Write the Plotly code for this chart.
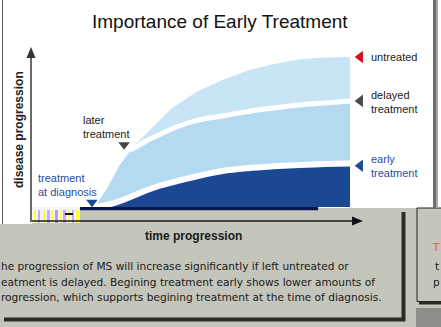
import plotly.graph_objects as go

# ---------------- data (time units vs disease progression) ----------------
time = [0, 0.5, 1, 1.5, 2, 2.5, 3, 4, 5, 6, 7, 8, 9, 10]
untreated = [0, 13, 28.7, 40.5, 48.7, 57, 65.7, 77, 84.7, 91, 95.3, 98.3, 99.7, 100]
delayed = [None, None, None, 39, 44, 48, 52, 57.7, 60.7, 63.7, 66, 68, 69.3, 70.7]
early = [0, 1.5, 4, 7.5, 11, 14, 16.3, 20.5, 24, 25.9, 27.1, 28, 28.7, 29]

series_names = ["untreated", "delayed treatment", "early treatment"]

W, H = 441, 327
# axis ranges chosen so the plot fills the whole page
XR = [-95 / 25.5, (W - 95) / 25.5]
YR = [(207 - H) / 1.5, 207 / 1.5]

def X(px):
    return px / W

def Y(py):
    return 1 - py / H

def rect(x0, y0, x1, y1, fill, line=None, layer="below", lw=0):
    return dict(type="rect", xref="paper", yref="paper",
                x0=X(x0), x1=X(x1), y0=Y(y1), y1=Y(y0),
                fillcolor=fill, line=dict(width=lw, color=line or fill), layer=layer)

def seg(x0, y0, x1, y1, color, w=1, layer="above"):
    return dict(type="line", xref="paper", yref="paper",
                x0=X(x0), x1=X(x1), y0=Y(y0), y1=Y(y1),
                line=dict(color=color, width=w), layer=layer)

def tri(pts, color, layer="above"):
    p = "M " + " L ".join(f"{X(a)},{Y(b)}" for a, b in pts) + " Z"
    return dict(type="path", xref="paper", yref="paper", path=p,
                fillcolor=color, line=dict(width=0), layer=layer)

LIGHT = "#c8e5f6"
MID = "#b4daf1"
DARK = "#1c4793"
NAVY = "#0b1650"
PANEL = "#c4c5bb"

fig = go.Figure()

# untreated band
fig.add_trace(go.Scatter(x=time, y=untreated, mode="lines", fill="tozeroy",
                         fillcolor=LIGHT, line=dict(width=0, color=LIGHT),
                         name=series_names[0], hoverinfo="skip"))
# delayed band (follows untreated before branching)
delayed_fill = [d if d is not None else u for d, u in zip(delayed, untreated)]
fig.add_trace(go.Scatter(x=time, y=delayed_fill, mode="lines", fill="tozeroy",
                         fillcolor=MID, line=dict(width=0, color=MID),
                         name=series_names[1], hoverinfo="skip"))
t_d = [t for t, d in zip(time, delayed) if d is not None]
v_d = [d for d in delayed if d is not None]
fig.add_trace(go.Scatter(x=[1.37] + t_d, y=[38] + v_d, mode="lines",
                         line=dict(width=5, color="white", shape="spline"),
                         hoverinfo="skip", showlegend=False))
# early band
fig.add_trace(go.Scatter(x=time, y=early, mode="lines", fill="tozeroy",
                         fillcolor=DARK, line=dict(width=0, color=DARK),
                         name=series_names[2], hoverinfo="skip"))
fig.add_trace(go.Scatter(x=time, y=early, mode="lines",
                         line=dict(width=6, color="white", shape="spline"),
                         hoverinfo="skip", showlegend=False))

# end markers (triangles) tied to series ends
fig.add_trace(go.Scatter(x=[10.4, 10.4, 10.4],
                         y=[untreated[-1], delayed[-1], early[-1] - 1.5],
                         mode="markers",
                         marker=dict(symbol="triangle-left", size=11,
                                     color=["#d0101c", "#4a4a4a", "#1f4a96"]),
                         hoverinfo="skip", showlegend=False))
fig.add_trace(go.Scatter(x=[1.14, -0.12], y=[41.5, 3.2], mode="markers",
                         marker=dict(symbol="triangle-down", size=10,
                                     color=["#444444", "#1f4a96"]),
                         hoverinfo="skip", showlegend=False))

shapes = []
# bottom grey background and panels
shapes.append(rect(0, 208, 441, 327, PANEL))
shapes.append(rect(4, 212, 405.5, 321.5, "#2c2c24"))
shapes.append(rect(-2, 208, 401.5, 317.5, PANEL))
# white corner + glitch region at left
shapes.append(rect(-2, 207, 32, 224, "white"))
shapes.append(rect(32, 207, 80, 223, "#f4f4ff"))
for a, b, c in [(34, 36, "#ffff40"), (38, 40, "#c8a8ff"), (43, 45, "#ffff40"),
                (47, 50, "#c8a8ff"), (51, 53, "#ffff40"), (55, 58, "#b898f0"),
                (60, 62, "#ffff40"), (63, 66, "#c8a8ff"), (68, 70, "#ffff40"),
                (72, 74, "#c8a8ff"), (76, 79, "#ffff40")]:
    shapes.append(rect(a, 210, b, 223, c))
shapes.append(rect(65, 213, 73, 215, "#111111"))
# second panel on the right
shapes.append(rect(419, 210, 445, 304.5, "#2c2c24"))
shapes.append(rect(417, 208, 445, 301.5, PANEL, line="#222222", lw=1))
shapes.append(rect(416, 308, 441, 327, "#8e8e88"))
# borders of the white chart box
shapes.append(seg(2.5, 0, 2.5, 224, "#555555", 1))
shapes.append(rect(433, 0, 436, 208, "#6e6e6e"))
shapes.append(rect(436, 0, 438, 208, "#a8a8a8"))
# navy baseline
shapes.append(dict(type="rect", xref="x", yref="y", x0=-0.59, x1=8.75, y0=-2.2, y1=0,
                   fillcolor=NAVY, line=dict(width=0), layer="above"))
# axes with arrow heads
shapes.append(seg(31, 222, 31, 56, "#1a1a1a", 1.3))
shapes.append(tri([(31, 47), (26.5, 58), (35.5, 58)], "#333333"))
shapes.append(seg(32, 221, 355, 221, "#1a1a1a", 1.3))
shapes.append(tri([(363, 221), (352, 216.5), (352, 225.5)], "#111111"))

anns = []

def txt(s, px, py, size=11, color="#222222", xanchor="left", bold=False,
        angle=0, yanchor="middle", align="left", family="Liberation Sans"):
    if bold:
        s = "<b>" + s + "</b>"
    anns.append(dict(text=s, x=X(px), y=Y(py), xref="paper", yref="paper",
                     showarrow=False, xanchor=xanchor, yanchor=yanchor,
                     align=align, textangle=angle,
                     font=dict(size=size, color=color, family=family)))

txt("Importance of Early Treatment", 220, 21, size=19, color="#111111", xanchor="center")
txt("disease progression", 19, 130, size=12, bold=True, angle=-90, xanchor="center",
    color="#222222")
txt("untreated", 369, 57)
txt("delayed<br>treatment", 369, 102)
txt("early<br>treatment", 369, 166, color="#2b4d9b")
txt("later<br>treatment", 81, 127)
txt("treatment<br>at diagnosis", 36, 185, color="#2b4d9b")
txt("time progression", 193, 236, size=12, bold=True, xanchor="center", color="#1a1a1a")
# paragraph as it is visible in the picture (left edge cropped by the page)
para_lines = ["he progression of MS will increase significantly if left untreated or",
              "eatment is delayed. Begining treatment early shows lower amounts of",
              "rogression, which supports begining treatment at the time of diagnosis."]
for line, py in zip(para_lines, [265.5, 281.5, 297]):
    txt(line, -1, py, size=10.6, color="#1a1a1a", family="DejaVu Sans")
txt("T", 430, 247, size=10.6, color="#c8782a", family="DejaVu Sans")
txt("t", 433, 265.5, size=10.6, color="#1a1a1a", family="DejaVu Sans")
txt("p", 431, 281.5, size=10.6, color="#1a1a1a", family="DejaVu Sans")

fig.update_layout(
    width=W, height=H, margin=dict(l=0, r=0, t=0, b=0),
    paper_bgcolor="white", plot_bgcolor="rgba(0,0,0,0)",
    showlegend=False, shapes=shapes, annotations=anns,
    xaxis=dict(range=XR, visible=False, fixedrange=True),
    yaxis=dict(range=YR, visible=False, fixedrange=True),
)
fig.write_html("out.html", config={"displayModeBar": False})
